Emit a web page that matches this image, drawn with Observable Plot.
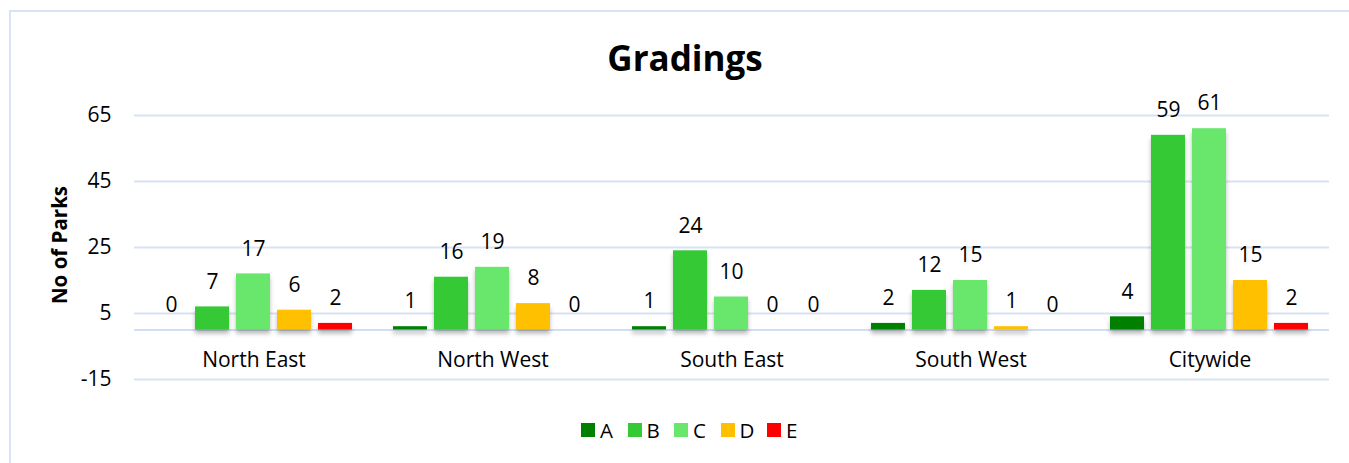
<!DOCTYPE html>
<html>
<head>
<meta charset="utf-8">
<script src="https://cdn.jsdelivr.net/npm/d3@7"></script>
<script src="https://cdn.jsdelivr.net/npm/@observablehq/plot@0.6"></script>
<style>
  html, body { margin: 0; padding: 0; background: #fff; width: 1349px; height: 463px; overflow: hidden; }
  body { position: relative; font-family: "Open Sans", sans-serif; color: #000; }
  #frame { position: absolute; left: 9px; top: 10px; width: 1400px; height: 500px;
           border-top: 2px solid #dae3f3; border-left: 2px solid #dae3f3; box-sizing: border-box; }
  #title { position: absolute; left: 9px; width: 1352px; top: 34px; text-align: center;
           font-weight: 700; font-size: 35px; line-height: 48px; }
  #ylabel { position: absolute; left: 59px; top: 245px; transform: translate(-50%, -50%) rotate(-90deg);
            font-weight: 700; font-size: 20.5px; white-space: nowrap; line-height: 24px; }
  #chart { position: absolute; left: 0; top: 70px; }
  #legend { position: absolute; left: 581px; top: 416px; display: flex; font-size: 20.5px; line-height: 28px; }
  .item { width: 46.5px; display: flex; align-items: center; }
  .sw { width: 14px; height: 14px; margin-right: 5px; }
  #chart g[aria-label="bar"] rect { filter: drop-shadow(0px 4px 2px rgba(0,0,0,0.28)); }
</style>
</head>
<body>
<div id="frame"></div>
<div id="title">Gradings</div>
<div id="ylabel">No of Parks</div>
<div id="chart"></div>
<div id="legend"></div>
<script>
// ---- data ----
const regions = ["North East", "North West", "South East", "South West", "Citywide"];
const grades = ["A", "B", "C", "D", "E"];
const gradeA = [0, 1, 1, 2, 4];
const gradeB = [7, 16, 24, 12, 59];
const gradeC = [17, 19, 10, 15, 61];
const gradeD = [6, 8, 0, 1, 15];
const gradeE = [2, 0, 0, 0, 2];
const yTicks = [65, 45, 25, 5, -15];
const colors = ["#008000", "#35c935", "#69e76c", "#ffc000", "#ff0000"];

const series = [gradeA, gradeB, gradeC, gradeD, gradeE];
const rows = [];
regions.forEach((r, i) => grades.forEach((g, j) => rows.push({region: r, grade: g, value: series[j][i]})));

const chart = Plot.plot({
  width: 1349,
  height: 314,
  marginTop: 12,
  marginBottom: 5,
  marginLeft: 134,
  marginRight: 20,
  style: {fontFamily: "Open Sans", fontSize: "21px", color: "#000", background: "transparent", overflow: "visible"},
  fx: {domain: regions, paddingInner: 0, paddingOuter: 0, label: null},
  x: {domain: grades, paddingInner: 0.1667, paddingOuter: 0.4286, axis: null},
  y: {domain: [-15, 75], label: null},
  color: {domain: grades, range: colors},
  marks: [
    Plot.ruleY(yTicks, {stroke: "#d9e2f3", strokeWidth: 2}),
    Plot.ruleY([0], {stroke: "#d3def0", strokeWidth: 2}),
    Plot.barY(rows, {fx: "region", x: "grade", y: "value", fill: "grade"}),
    Plot.text(rows, {fx: "region", x: "grade", y: "value", text: d => String(d.value), dy: -25, fontSize: 21, fill: "#000"}),
    Plot.axisY({ticks: yTicks, tickSize: 0, tickPadding: 23, fontSize: 21, tickFormat: d => String(d), label: null}),
    Plot.axisFx({anchor: "bottom", tickSize: 0, tickPadding: 0, dy: -27, fontSize: 21, label: null})
  ]
});
document.getElementById("chart").appendChild(chart);

const legend = document.getElementById("legend");
grades.forEach((g, j) => {
  const it = document.createElement("div");
  it.className = "item";
  const sw = document.createElement("span");
  sw.className = "sw";
  sw.style.background = colors[j];
  const t = document.createElement("span");
  t.textContent = g;
  it.appendChild(sw); it.appendChild(t);
  legend.appendChild(it);
});
</script>
</body>
</html>
